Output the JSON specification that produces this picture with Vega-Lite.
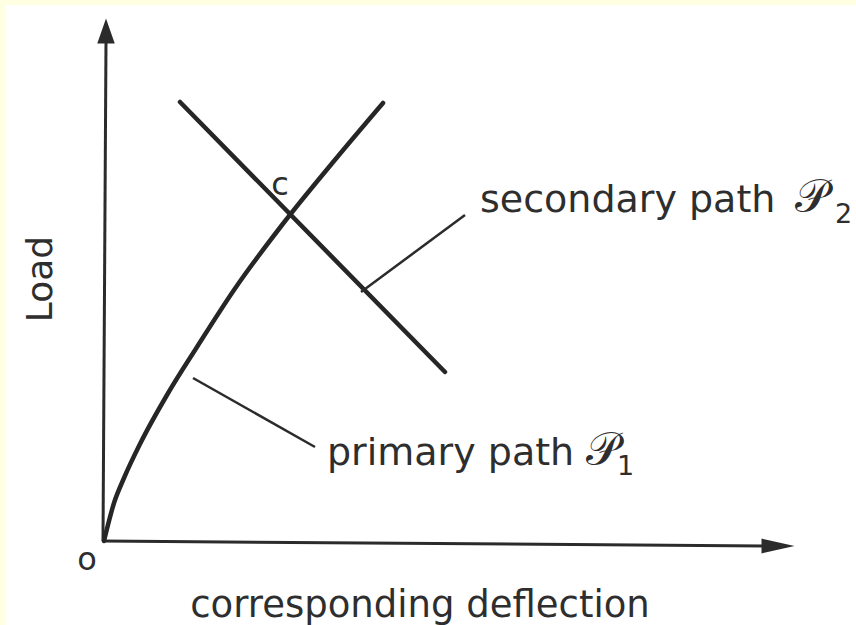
{
  "$schema": "https://vega.github.io/schema/vega-lite/v6.json",
  "width": 700,
  "height": 524,
  "autosize": {"type": "none"},
  "padding": {"left": 104, "top": 17, "right": 52, "bottom": 84},
  "background": "#FFFFE1",
  "config": {"view": {"stroke": null}, "text": {"font": "DejaVu Sans", "color": "#2e2e2e"}},
  "layer": [
    {
      "data": {"values": [{"x": -98, "x2": 760, "y": 536, "y2": -90}]},
      "mark": {"type": "rect", "fill": "white", "clip": false},
      "encoding": {
        "x": {"field": "x", "type": "quantitative", "scale": {"domain": [0, 700], "nice": false, "zero": false}, "axis": null},
        "x2": {"field": "x2"},
        "y": {"field": "y", "type": "quantitative", "scale": {"domain": [0, 524], "nice": false, "zero": false}, "axis": null},
        "y2": {"field": "y2"}
      }
    },
    {
      "data": {"values": [
        {"s": "yaxis", "o": 0, "x": -1, "y": 0},
        {"s": "yaxis", "o": 1, "x": 2, "y": 500},
        {"s": "xaxis", "o": 0, "x": -1, "y": 0},
        {"s": "xaxis", "o": 1, "x": 662, "y": -5}
      ]},
      "mark": {"type": "line", "stroke": "#2b2b2b", "strokeWidth": 3, "clip": false},
      "encoding": {
        "x": {"field": "x", "type": "quantitative", "scale": {"domain": [0, 700], "nice": false, "zero": false}, "axis": null},
        "y": {"field": "y", "type": "quantitative", "scale": {"domain": [0, 524], "nice": false, "zero": false}, "axis": null},
        "detail": {"field": "s"},
        "order": {"field": "o", "type": "quantitative"}
      }
    },
    {
      "data": {"values": [{"x": 674, "y": -5}]},
      "mark": {"type": "point", "shape": "M-1,-0.45L1,0L-1,0.45Z", "size": 1089, "filled": true, "fill": "#2b2b2b", "opacity": 1, "clip": false},
      "encoding": {
        "x": {"field": "x", "type": "quantitative", "scale": {"domain": [0, 700], "nice": false, "zero": false}, "axis": null},
        "y": {"field": "y", "type": "quantitative", "scale": {"domain": [0, 524], "nice": false, "zero": false}, "axis": null}
      }
    },
    {
      "data": {"values": [{"x": 2, "y": 510}]},
      "mark": {"type": "point", "shape": "M0,-1L0.7,1L-0.7,1Z", "size": 625, "filled": true, "fill": "#2b2b2b", "opacity": 1, "clip": false},
      "encoding": {
        "x": {"field": "x", "type": "quantitative", "scale": {"domain": [0, 700], "nice": false, "zero": false}, "axis": null},
        "y": {"field": "y", "type": "quantitative", "scale": {"domain": [0, 524], "nice": false, "zero": false}, "axis": null}
      }
    },
    {
      "data": {"values": [
        {"s": "primary", "o": 0, "x": 0, "y": 0},
        {"s": "primary", "o": 1, "x": 10, "y": 38},
        {"s": "primary", "o": 2, "x": 20, "y": 63},
        {"s": "primary", "o": 3, "x": 36, "y": 97},
        {"s": "primary", "o": 4, "x": 63, "y": 146},
        {"s": "primary", "o": 5, "x": 93, "y": 194},
        {"s": "primary", "o": 6, "x": 130, "y": 251},
        {"s": "primary", "o": 7, "x": 178, "y": 316},
        {"s": "primary", "o": 8, "x": 230, "y": 380},
        {"s": "primary", "o": 9, "x": 279, "y": 438},
        {"s": "secondary", "o": 0, "x": 76, "y": 439},
        {"s": "secondary", "o": 1, "x": 341, "y": 169}
      ]},
      "mark": {"type": "line", "stroke": "#262626", "strokeWidth": 4.5, "interpolate": "monotone", "strokeCap": "round"},
      "encoding": {
        "x": {"field": "x", "type": "quantitative", "scale": {"domain": [0, 700], "nice": false, "zero": false}, "axis": null},
        "y": {"field": "y", "type": "quantitative", "scale": {"domain": [0, 524], "nice": false, "zero": false}, "axis": null},
        "detail": {"field": "s"},
        "order": {"field": "o", "type": "quantitative"}
      }
    },
    {
      "data": {"values": [
        {"s": "lead2", "o": 0, "x": 257, "y": 249},
        {"s": "lead2", "o": 1, "x": 361, "y": 326},
        {"s": "lead1", "o": 0, "x": 89, "y": 163},
        {"s": "lead1", "o": 1, "x": 211, "y": 94}
      ]},
      "mark": {"type": "line", "stroke": "#2b2b2b", "strokeWidth": 2.5},
      "encoding": {
        "x": {"field": "x", "type": "quantitative", "scale": {"domain": [0, 700], "nice": false, "zero": false}, "axis": null},
        "y": {"field": "y", "type": "quantitative", "scale": {"domain": [0, 524], "nice": false, "zero": false}, "axis": null},
        "detail": {"field": "s"},
        "order": {"field": "o", "type": "quantitative"}
      }
    },
    {
      "data": {"values": [
        {"t": "secondary path", "x": 376, "y": 329},
        {"t": "primary path", "x": 223, "y": 76}
      ]},
      "mark": {"type": "text", "fontSize": 38, "align": "left", "baseline": "alphabetic", "clip": false},
      "encoding": {
        "x": {"field": "x", "type": "quantitative", "scale": {"domain": [0, 700], "nice": false, "zero": false}, "axis": null},
        "y": {"field": "y", "type": "quantitative", "scale": {"domain": [0, 524], "nice": false, "zero": false}, "axis": null},
        "text": {"field": "t"}
      }
    },
    {
      "data": {"values": [
        {"t": "𝒫", "x": 691, "y": 329},
        {"t": "𝒫", "x": 482, "y": 76}
      ]},
      "mark": {"type": "text", "fontSize": 46, "align": "left", "baseline": "alphabetic", "clip": false},
      "encoding": {
        "x": {"field": "x", "type": "quantitative", "scale": {"domain": [0, 700], "nice": false, "zero": false}, "axis": null},
        "y": {"field": "y", "type": "quantitative", "scale": {"domain": [0, 524], "nice": false, "zero": false}, "axis": null},
        "text": {"field": "t"}
      }
    },
    {
      "data": {"values": [
        {"t": "2", "x": 731, "y": 318},
        {"t": "1", "x": 513, "y": 66}
      ]},
      "mark": {"type": "text", "fontSize": 27, "align": "left", "baseline": "alphabetic", "clip": false},
      "encoding": {
        "x": {"field": "x", "type": "quantitative", "scale": {"domain": [0, 700], "nice": false, "zero": false}, "axis": null},
        "y": {"field": "y", "type": "quantitative", "scale": {"domain": [0, 524], "nice": false, "zero": false}, "axis": null},
        "text": {"field": "t"}
      }
    },
    {
      "data": {"values": [
        {"t": "c", "x": 176, "y": 346},
        {"t": "o", "x": -17, "y": -29}
      ]},
      "mark": {"type": "text", "fontSize": 32, "align": "center", "baseline": "alphabetic", "clip": false},
      "encoding": {
        "x": {"field": "x", "type": "quantitative", "scale": {"domain": [0, 700], "nice": false, "zero": false}, "axis": null},
        "y": {"field": "y", "type": "quantitative", "scale": {"domain": [0, 524], "nice": false, "zero": false}, "axis": null},
        "text": {"field": "t"}
      }
    },
    {
      "data": {"values": [{"t": "corresponding deflection", "x": 316, "y": -76}]},
      "mark": {"type": "text", "fontSize": 37, "align": "center", "baseline": "alphabetic", "clip": false},
      "encoding": {
        "x": {"field": "x", "type": "quantitative", "scale": {"domain": [0, 700], "nice": false, "zero": false}, "axis": null},
        "y": {"field": "y", "type": "quantitative", "scale": {"domain": [0, 524], "nice": false, "zero": false}, "axis": null},
        "text": {"field": "t"}
      }
    },
    {
      "data": {"values": [{"t": "Load", "x": -52, "y": 262}]},
      "mark": {"type": "text", "fontSize": 36, "angle": 270, "align": "center", "baseline": "alphabetic", "clip": false},
      "encoding": {
        "x": {"field": "x", "type": "quantitative", "scale": {"domain": [0, 700], "nice": false, "zero": false}, "axis": null},
        "y": {"field": "y", "type": "quantitative", "scale": {"domain": [0, 524], "nice": false, "zero": false}, "axis": null},
        "text": {"field": "t"}
      }
    }
  ]
}
